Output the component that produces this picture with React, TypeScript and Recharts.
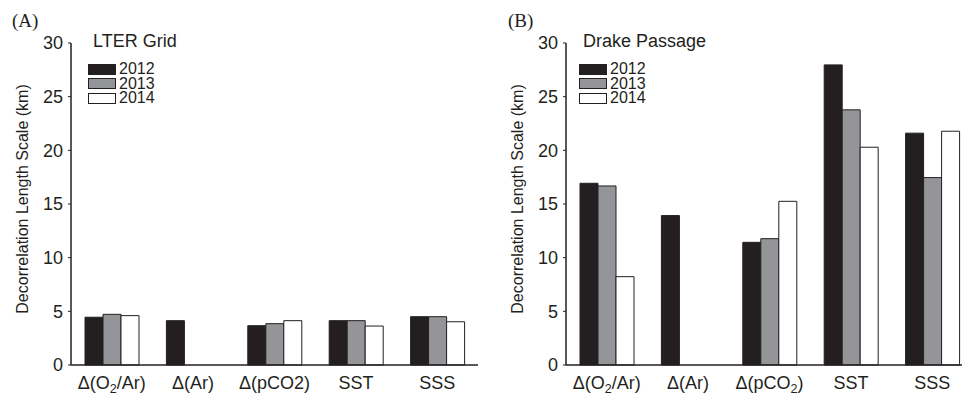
import React from 'react';
import { BarChart, Bar, XAxis, YAxis, Legend } from 'recharts';

// categories (a "_" marks the next character as a subscript)
const categoriesA = ['Δ(O_2/Ar)', 'Δ(Ar)', 'Δ(pCO2)', 'SST', 'SSS'];
const categoriesB = ['Δ(O_2/Ar)', 'Δ(Ar)', 'Δ(pCO_2)', 'SST', 'SSS'];
const years = ['2012', '2013', '2014'];

// decorrelation length scale (km), LTER Grid
const lter2012 = [4.45, 4.13, 3.66, 4.13, 4.5];
const lter2013 = [4.72, 0, 3.85, 4.13, 4.5];
const lter2014 = [4.6, 0, 4.13, 3.63, 4.03];

// decorrelation length scale (km), Drake Passage
const drake2012 = [16.93, 13.92, 11.43, 27.96, 21.6];
const drake2013 = [16.68, 0, 11.77, 23.77, 17.46];
const drake2014 = [8.23, 0, 15.25, 20.29, 21.78];

const yTicks = [0, 5, 10, 15, 20, 25, 30];

const INK = '#231f20';
const FILLS = [INK, '#939598', '#ffffff'];
const SANS = '"Liberation Sans", Arial, Helvetica, sans-serif';

const buildRows = (cats: string[], s: number[][]) =>
  cats.map((name, i) => ({
    name,
    [years[0]]: s[0][i],
    [years[1]]: s[1][i],
    [years[2]]: s[2][i],
  }));

const dataA = buildRows(categoriesA, [lter2012, lter2013, lter2014]);
const dataB = buildRows(categoriesB, [drake2012, drake2013, drake2014]);

const CategoryTick = (props: any) => {
  const { x, y, payload } = props;
  const parts = String(payload.value).split('_');
  return (
    <text x={x} y={y + 24} textAnchor="middle" fontSize={18} fontFamily={SANS} fill={INK}>
      <tspan>{parts[0]}</tspan>
      {parts.slice(1).map((p, i) => (
        <React.Fragment key={i}>
          <tspan dy={3.5} fontSize={12.5}>{p.charAt(0)}</tspan>
          <tspan dy={-3.5}>{p.slice(1)}</tspan>
        </React.Fragment>
      ))}
    </text>
  );
};

const YearLegend = (props: any) => {
  const { payload } = props;
  return (
    <div>
      {(payload || []).map((p: any) => (
        <div key={p.value} style={{ display: 'flex', alignItems: 'center', height: 14.5 }}>
          <span
            style={{
              display: 'inline-block',
              width: 28,
              height: 11,
              background: p.color,
              border: `1.5px solid ${INK}`,
              boxSizing: 'border-box',
            }}
          />
          <span style={{ marginLeft: 3, fontSize: 16, lineHeight: '14px', color: INK, fontFamily: SANS }}>
            {p.value}
          </span>
        </div>
      ))}
    </div>
  );
};

const AxisTitle = (props: any) => {
  const vb = props.viewBox;
  const cx = vb.x + 22;
  const cy = vb.y + vb.height / 2 - 5;
  return (
    <text
      transform={`translate(${cx},${cy}) rotate(-90)`}
      textAnchor="middle"
      dominantBaseline="central"
      fontSize={16}
      fontFamily={SANS}
      fill={INK}
    >
      Decorrelation Length Scale (km)
    </text>
  );
};

const Panel = ({ data, left, title, tag }: { data: any[]; left: number; title: string; tag: string }) => (
  <div style={{ position: 'absolute', left, top: 0, width: 480, height: 393 }}>
    <div style={{ position: 'absolute', left: left === 0 ? 12 : 13, top: 10, fontFamily: '"Liberation Serif", "Times New Roman", serif', fontSize: 19, color: INK }}>
      {tag}
    </div>
    <div style={{ position: 'absolute', left: left === 0 ? 93 : 88, top: 31, fontFamily: SANS, fontSize: 18, color: INK }}>
      {title}
    </div>
    <BarChart width={480} height={393} data={data} margin={{ top: 43, right: 2, bottom: 0, left: 0 }} barGap={0} barSize={18}>
      <XAxis
        dataKey="name"
        height={28}
        tickSize={0}
        tickMargin={0}
        tickLine={false}
        interval={0}
        axisLine={{ stroke: INK, strokeWidth: 1.5 }}
        tick={<CategoryTick />}
      />
      <YAxis
        width={71}
        domain={[0, 30]}
        ticks={yTicks}
        interval={0}
        tickSize={3}
        tickMargin={5}
        axisLine={{ stroke: INK, strokeWidth: 1.5 }}
        tickLine={{ stroke: INK }}
        tick={{ fontSize: 18, fill: INK, fontFamily: SANS }}
        label={AxisTitle}
      />
      <Legend
        layout="vertical"
        align="center"
        verticalAlign="middle"
        content={<YearLegend />}
        wrapperStyle={{ left: left === 0 ? 88 : 84, top: 62, width: 80, height: 45 }}
      />
      {years.map((y, i) => (
        <Bar key={y} dataKey={y} fill={FILLS[i]} stroke={INK} strokeWidth={1} isAnimationActive={false} />
      ))}
    </BarChart>
  </div>
);

export default function App() {
  return (
    <div style={{ position: 'absolute', left: 0, top: 0, width: 962, height: 393, overflow: 'hidden', background: '#fff' }}>
      <Panel data={dataA} left={0} title="LTER Grid" tag="(A)" />
      <Panel data={dataB} left={495} title="Drake Passage" tag="(B)" />
    </div>
  );
}
